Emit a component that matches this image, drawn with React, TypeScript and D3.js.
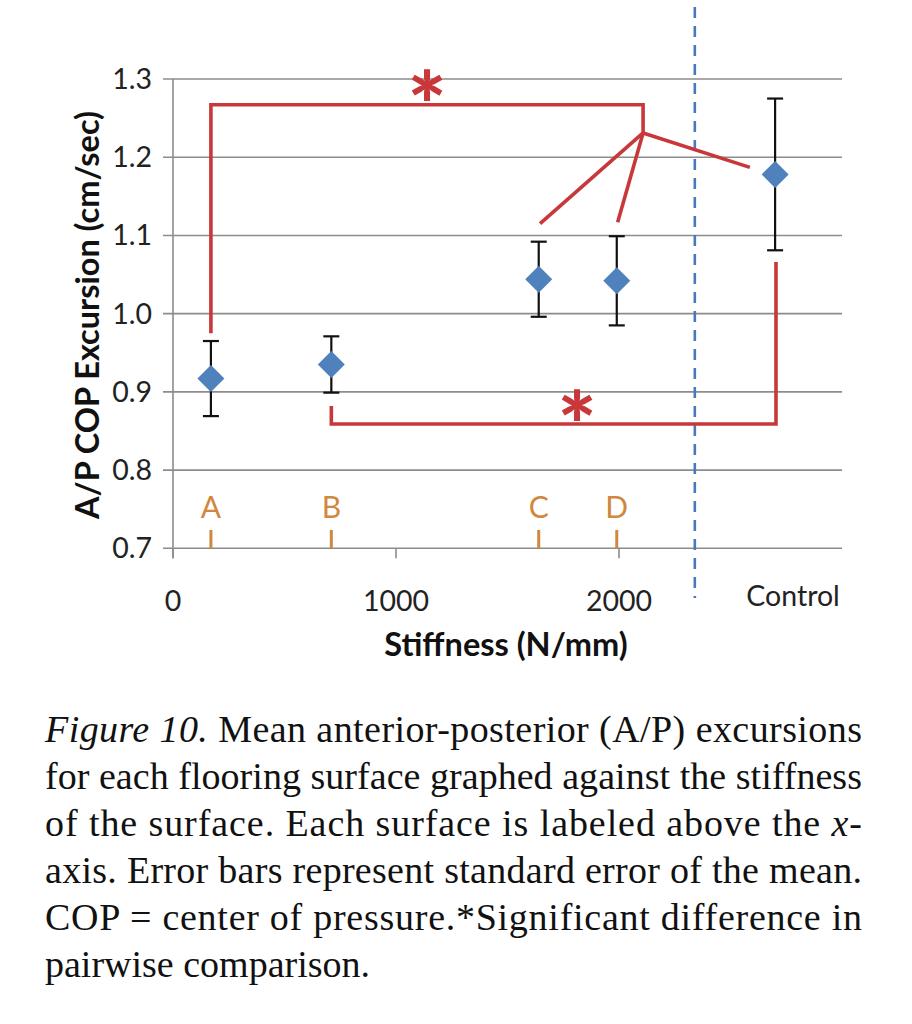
import React from 'react';
import * as d3 from 'd3';

// surfaces A-D plotted by stiffness, control placed right of the dashed divider
const surfaces = ['A', 'B', 'C', 'D'];
const stiffness = [170, 710, 1640, 1990];
const controlX = 2700;
const means = [0.917, 0.935, 1.044, 1.042, 1.178];
const sem = [0.048, 0.036, 0.048, 0.057, 0.097];
const yTicks = [0.7, 0.8, 0.9, 1.0, 1.1, 1.2, 1.3];
const xTicks = [0, 1000, 2000];
const dividerX = 2340;

// significance annotations (data units)
const topBracket: [number, number][] = [[170, 0.975], [170, 1.267], [2108, 1.267], [2108, 1.231]];
const topBranches: [number, number][] = [[1646, 1.115], [1994, 1.117], [2587, 1.187]];
const bottomBracket: [number, number][] = [[710, 0.882], [710, 0.859], [2704, 0.859], [2704, 1.066]];
const stars: [number, number][] = [[1139, 1.296], [1812, 0.887]];

const captionLines = [
  'Mean anterior-posterior (A/P) excursions',
  'for each flooring surface graphed against the stiffness',
  'of the surface. Each surface is labeled above the ',
  'axis. Error bars represent standard error of the mean.',
  'COP = center of pressure.*Significant difference in',
  'pairwise comparison.',
];

const RED = '#c8383a';
const BLUE = '#4f81bd';
const ORANGE = '#d0883e';
const GRID = '#8c8c8c';
const FONT = 'Lato, "Open Sans", sans-serif';

export default function App() {
  const x = d3.scaleLinear().domain([0, 3000]).range([173, 842]);
  const y = d3.scaleLinear().domain([0.7, 1.3]).range([548.3, 79]);
  const line = d3.line<[number, number]>().x(d => x(d[0])).y(d => y(d[1]));
  const xs = [...stiffness, controlX];
  const branchOrigin = topBracket[3];

  return (
    <svg width={912} height={1024} style={{ position: 'absolute', left: 0, top: 0, background: '#fff' }}>
      {/* gridlines */}
      {yTicks.map(t => (
        <line key={t} x1={163} x2={x(3000)} y1={y(t)} y2={y(t)} stroke={GRID} strokeWidth={1.6} />
      ))}
      <line x1={x(0)} x2={x(0)} y1={y(1.3)} y2={y(0.7) + 10} stroke={GRID} strokeWidth={1.6} />
      {xTicks.map(t => (
        <line key={t} x1={x(t)} x2={x(t)} y1={y(0.7)} y2={y(0.7) + 10} stroke={GRID} strokeWidth={1.6} />
      ))}
      {yTicks.map(t => (
        <text key={t} x={152} y={y(t) + 10} textAnchor="end" fontFamily={FONT} fontSize={28.5} fill="#222">
          {t.toFixed(1)}
        </text>
      ))}
      {xTicks.map(t => (
        <text key={t} x={x(t)} y={611} textAnchor="middle" fontFamily={FONT} fontSize={28.5} fill="#222">
          {t}
        </text>
      ))}
      <text x={x(controlX) + 18} y={606} textAnchor="middle" fontFamily={FONT} fontSize={28.5} fill="#222">Control</text>
      <text x={506} y={656} textAnchor="middle" fontFamily={FONT} fontWeight={700} fontSize={32.5} fill="#111">
        Stiffness (N/mm)
      </text>
      <text transform="translate(99,315) rotate(-90)" textAnchor="middle" fontFamily={FONT} fontWeight={700} fontSize={32.5} fill="#111">
        A/P COP Excursion (cm/sec)
      </text>

      {/* divider */}
      <line x1={x(dividerX)} x2={x(dividerX)} y1={7} y2={598} stroke="#4a78bd" strokeWidth={2.6} strokeDasharray="11 8" />

      {/* surface labels */}
      {surfaces.map((s, i) => (
        <g key={s}>
          <text x={x(stiffness[i])} y={518} textAnchor="middle" fontFamily={FONT} fontSize={30} fill={ORANGE}>{s}</text>
          <line x1={x(stiffness[i])} x2={x(stiffness[i])} y1={530} y2={y(0.7)} stroke={ORANGE} strokeWidth={3} />
        </g>
      ))}

      {/* significance brackets */}
      <g fill="none" stroke={RED} strokeWidth={3.6} strokeLinejoin="miter">
        <path d={line(topBracket) || ''} />
        {topBranches.map((b, i) => (
          <path key={i} d={line([branchOrigin, b]) || ''} />
        ))}
        <path d={line(bottomBracket) || ''} />
      </g>
      {stars.map((s, i) => (
        <text key={i} x={x(s[0])} y={y(s[1]) + 57} textAnchor="middle" fontFamily={FONT} fontWeight={900} fontSize={92} fill={RED}>*</text>
      ))}

      {/* error bars and means */}
      {means.map((m, i) => {
        const cx = x(xs[i]);
        return (
          <g key={i}>
            <line x1={cx} x2={cx} y1={y(m + sem[i])} y2={y(m - sem[i])} stroke="#111" strokeWidth={2.2} />
            <line x1={cx - 8} x2={cx + 8} y1={y(m + sem[i])} y2={y(m + sem[i])} stroke="#111" strokeWidth={2.2} />
            <line x1={cx - 8} x2={cx + 8} y1={y(m - sem[i])} y2={y(m - sem[i])} stroke="#111" strokeWidth={2.2} />
            <path d={`M${cx},${y(m) - 13.5}L${cx + 13.5},${y(m)}L${cx},${y(m) + 13.5}L${cx - 13.5},${y(m)}Z`} fill={BLUE} />
          </g>
        );
      })}

      {/* caption */}
      <g fontFamily='"Liberation Serif", "Times New Roman", serif' fontSize={38} fill="#111">
        <text x={45} y={742} textLength={817} lengthAdjust="spacing">
          <tspan fontStyle="italic">Figure 10.</tspan> {captionLines[0]}
        </text>
        <text x={45} y={789} textLength={817} lengthAdjust="spacing">{captionLines[1]}</text>
        <text x={45} y={836} textLength={817} lengthAdjust="spacing">
          {captionLines[2]}<tspan fontStyle="italic">x</tspan>-
        </text>
        <text x={45} y={883} textLength={817} lengthAdjust="spacing">{captionLines[3]}</text>
        <text x={45} y={930} textLength={817} lengthAdjust="spacing">{captionLines[4]}</text>
        <text x={45} y={977}>{captionLines[5]}</text>
      </g>
    </svg>
  );
}
